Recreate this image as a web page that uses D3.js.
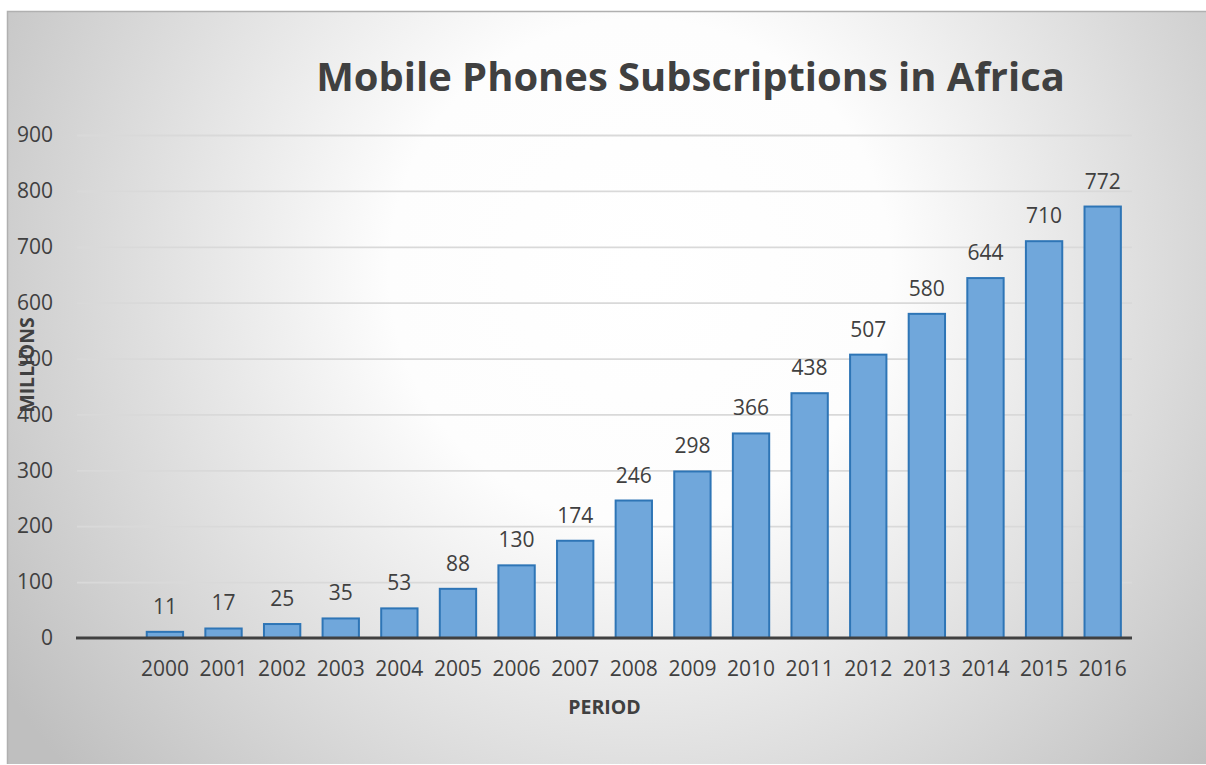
<!DOCTYPE html>
<html>
<head>
<meta charset="utf-8">
<script src="https://cdn.jsdelivr.net/npm/d3@7"></script>
<style>
  html, body { margin: 0; padding: 0; background: #ffffff; }
  svg { display: block; font-family: "Open Sans", "Noto Sans", sans-serif; }
</style>
</head>
<body>
<svg id="chart" width="1206" height="765"></svg>
<script>
// Mobile phone subscriptions in Africa, millions, by year
const years = ["2000", "2001", "2002", "2003", "2004", "2005", "2006", "2007", "2008",
               "2009", "2010", "2011", "2012", "2013", "2014", "2015", "2016"];
const subscriptions = [11, 17, 25, 35, 53, 88, 130, 174, 246, 298, 366, 438, 507, 580, 644, 710, 772];
const yTicks = [0, 100, 200, 300, 400, 500, 600, 700, 800, 900];

const chartTitle = "Mobile Phones Subscriptions in Africa";
const xTitle = "PERIOD";
const yTitle = "MILLIONS";

const svg = d3.select("#chart");
const W = 1206, H = 765;

// chart area frame and radial background
const defs = svg.append("defs");
const grad = defs.append("radialGradient")
  .attr("id", "bg")
  .attr("gradientUnits", "userSpaceOnUse")
  .attr("cx", 640).attr("cy", 270).attr("r", 760);
grad.append("stop").attr("offset", "0").attr("stop-color", "#ffffff");
grad.append("stop").attr("offset", "0.33").attr("stop-color", "#fdfdfd");
grad.append("stop").attr("offset", "1").attr("stop-color", "#bfbfbf");

svg.append("rect")
  .attr("x", 7).attr("y", 11)
  .attr("width", W - 7).attr("height", 753)
  .attr("fill", "url(#bg)");
svg.append("path")
  .attr("d", `M7.5,764 V11.5 H${W}`)
  .attr("fill", "none")
  .attr("stroke", "#b0b0b0")
  .attr("stroke-width", 1.5);

const plotLeft = 77, plotRight = 1132, plotTop = 135, plotBottom = 638;

// the first slot along the axis is left open, bars start one step in
const slot = (plotRight - plotLeft) / (years.length + 1);
const x = d3.scaleBand()
  .domain(years)
  .range([plotLeft + slot, plotRight])
  .paddingInner(0.38)
  .paddingOuter(0.19);

const y = d3.scaleLinear()
  .domain([0, 900])
  .range([plotBottom, plotTop]);

// horizontal gridlines
const grid = svg.append("g")
  .attr("transform", `translate(${plotLeft},0)`)
  .call(d3.axisLeft(y).tickValues(yTicks).tickSize(-(plotRight - plotLeft)).tickFormat(""));
grid.select(".domain").remove();
grid.selectAll("line")
  .attr("stroke", "#d9d9d9")
  .attr("stroke-width", 1.8);

// y axis labels
const yAxis = svg.append("g")
  .attr("transform", `translate(${plotLeft},0)`)
  .call(d3.axisLeft(y).tickValues(yTicks).tickSize(0).tickPadding(24));
yAxis.select(".domain").remove();
yAxis.selectAll("text")
  .attr("font-family", "'Open Sans', sans-serif")
  .attr("font-size", 21)
  .attr("fill", "#404040");

// bars
svg.append("g").selectAll("rect")
  .data(years)
  .join("rect")
  .attr("x", d => x(d))
  .attr("y", (d, i) => y(subscriptions[i]))
  .attr("width", x.bandwidth())
  .attr("height", (d, i) => y(0) - y(subscriptions[i]))
  .attr("fill", "#70a7db")
  .attr("stroke", "#2e75b6")
  .attr("stroke-width", 2);

// value labels
svg.append("g").selectAll("text")
  .data(years)
  .join("text")
  .attr("x", d => x(d) + x.bandwidth() / 2)
  .attr("y", (d, i) => y(subscriptions[i]) - 18)
  .attr("text-anchor", "middle")
  .attr("font-size", 21)
  .attr("fill", "#404040")
  .text((d, i) => subscriptions[i]);

// x axis baseline and labels
const xAxis = svg.append("g")
  .attr("transform", `translate(0,${plotBottom})`)
  .call(d3.axisBottom(x).tickSize(0).tickPadding(23));
xAxis.select(".domain").remove();
xAxis.selectAll("text")
  .attr("font-family", "'Open Sans', sans-serif")
  .attr("font-size", 21)
  .attr("fill", "#404040");

svg.append("line")
  .attr("x1", plotLeft - 1).attr("x2", plotRight)
  .attr("y1", plotBottom).attr("y2", plotBottom)
  .attr("stroke", "#404040")
  .attr("stroke-width", 3);

// axis titles
svg.append("text")
  .attr("x", (plotLeft + plotRight) / 2)
  .attr("y", 714)
  .attr("text-anchor", "middle")
  .attr("font-size", 19.5)
  .attr("font-weight", "bold")
  .attr("fill", "#404040")
  .text(xTitle);

svg.append("text")
  .attr("transform", "translate(34,365) rotate(-90)")
  .attr("text-anchor", "middle")
  .attr("font-size", 19.5)
  .attr("font-weight", "bold")
  .attr("fill", "#404040")
  .text(yTitle);

// chart title, sized to its span
const title = svg.append("text")
  .attr("x", 690.5)
  .attr("y", 91)
  .attr("text-anchor", "middle")
  .attr("font-size", 40)
  .attr("font-weight", "bold")
  .attr("fill", "#404040")
  .text(chartTitle);
const tw = title.node().getComputedTextLength();
title.attr("font-size", 40 * 749 / tw);
</script>
</body>
</html>
